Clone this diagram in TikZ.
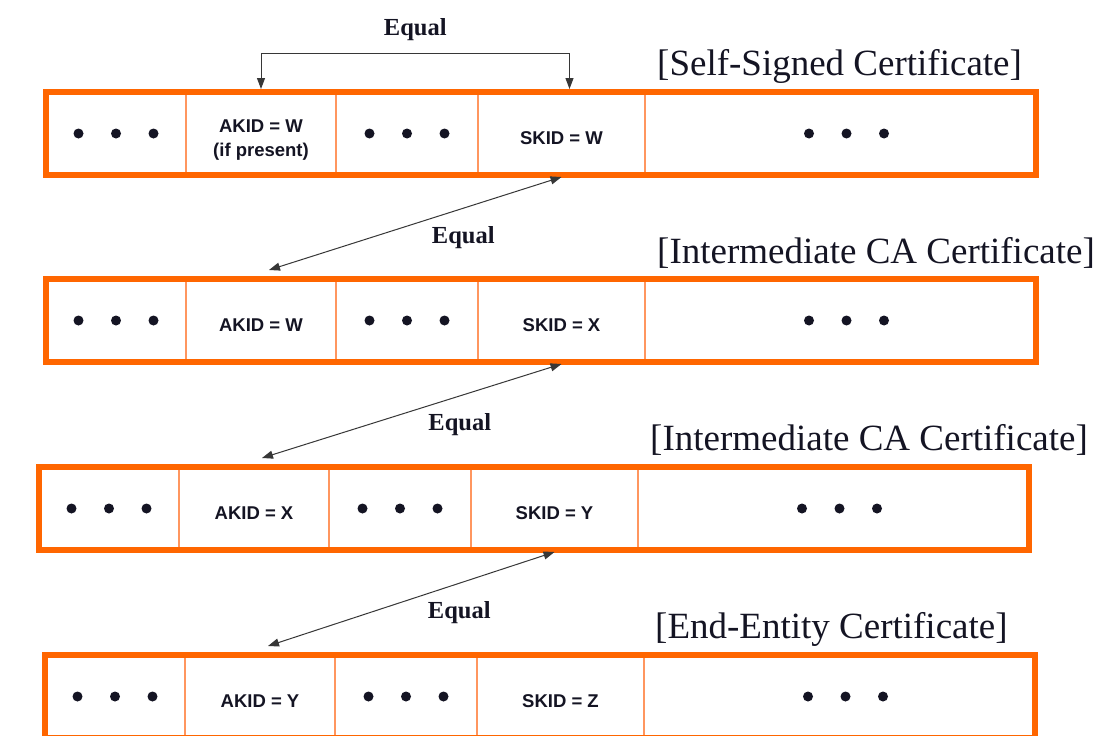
\documentclass[tikz,border=0pt]{standalone}
\usepackage{fontspec}
\setmainfont{Liberation Serif}
\setsansfont{Liberation Sans}
\usetikzlibrary{calc,arrows.meta}
\definecolor{certorange}{RGB}{255,102,0}
\definecolor{cellline}{RGB}{255,150,95}
\definecolor{arrowgray}{RGB}{55,55,55}
\definecolor{inkblack}{RGB}{20,20,35}
\tikzset{
  cell/.style={rectangle, draw=cellline, line width=1.3pt, minimum height=83pt, inner sep=0pt, outer sep=0pt, text=inkblack, font=\sffamily\bfseries\fontsize{18.5}{24}\selectfont},
  idcell/.style={cell, text height=21pt, text depth=0pt},
  certframe/.style={draw=certorange, line width=6pt},
  eqarrow/.style={draw=arrowgray, line width=1pt, {Triangle[length=11pt,width=8pt]}-{Triangle[length=11pt,width=8pt]}},
  eqlabel/.style={text=inkblack, font=\bfseries\fontsize{24.5}{28}\selectfont},
  certtitle/.style={anchor=west, inner sep=0pt, text=inkblack, font=\fontsize{37}{40}\selectfont}
}
\begin{document}
\begin{tikzpicture}[x=1pt,y=-1pt]
            \useasboundingbox (0,0) rectangle (1120,736);
            \fill [white] (0,0) rectangle (1120,736);
            % self-signed
            \node [cell, minimum width=140pt] (l1) at (116,133.5) {};
            \node [idcell, minimum width=150pt, text height=12pt, text depth=15pt] (a1) at (261,133.5) {\begin{tabular}[t]{@{}c@{}}AKID = W\\(if present)\end{tabular}};
            \node [cell, minimum width=142pt] (m1) at (407,133.5) {};
            \node [idcell, minimum width=167pt] (s1) at (561.5,133.5) {SKID = W};
            \node [cell, minimum width=391pt] (r1) at (840.5,133.5) {};
            % intermediate
            \node [cell, minimum width=140pt] (l2) at (116,320.5) {};
            \node [idcell, minimum width=150pt] (a2) at (261,320.5) {AKID = W};
            \node [cell, minimum width=142pt] (m2) at (407,320.5) {};
            \node [idcell, minimum width=167pt] (s2) at (561.5,320.5) {SKID = X};
            \node [cell, minimum width=391pt] (r2) at (840.5,320.5) {};
            % intermediate
            \node [cell, minimum width=140pt] (l3) at (109,508.5) {};
            \node [idcell, minimum width=150pt] (a3) at (254,508.5) {AKID = X};
            \node [cell, minimum width=142pt] (m3) at (400,508.5) {};
            \node [idcell, minimum width=167pt] (s3) at (554.5,508.5) {SKID = Y};
            \node [cell, minimum width=391pt] (r3) at (833.5,508.5) {};
            % end-entity
            \node [cell, minimum width=140pt] (l4) at (115,696.5) {};
            \node [idcell, minimum width=150pt] (a4) at (260,696.5) {AKID = Y};
            \node [cell, minimum width=142pt] (m4) at (406,696.5) {};
            \node [idcell, minimum width=167pt] (s4) at (560.5,696.5) {SKID = Z};
            \node [cell, minimum width=391pt] (r4) at (839.5,696.5) {};
            \draw [certframe] (l1.north west) rectangle (r1.south east);
            \draw [certframe] (l2.north west) rectangle (r2.south east);
            \draw [certframe] (l3.north west) rectangle (r3.south east);
            \draw [certframe] (l4.north west) rectangle (r4.south east);
            \foreach \c/\o in {l1/0,m1/0,r1/6,l2/0,m2/0,r2/6,l3/0,m3/0,r3/6,l4/0,m4/0,r4/6}
              \foreach \dx in {-37.5,0,37.5}
                \fill [inkblack] ($(\c.center)+(\dx+\o,0)$) circle (5);
            \node [certtitle] (t1) at (657,66) {[Self-Signed Certificate]};
            \node [certtitle] (t2) at (657,253) {[Intermediate CA Certificate]};
            \node [certtitle] (t3) at (650,440) {[Intermediate CA Certificate]};
            \node [certtitle] (t4) at (655,629) {[End-Entity Certificate]};
            \draw [eqarrow] ($(a1.north)+(0,-3)$) -- ++(0,-36) -| ($(s1.north)+(8,-3)$) node [eqlabel, pos=0.25, yshift=23pt] {Equal};
            \draw [eqarrow] ($(s1.south)+(0,2)$) -- ($(a2.north)+(8,-9)$) node [eqlabel, midway, xshift=48pt, yshift=-14pt] {Equal};
            \draw [eqarrow] ($(s2.south)+(0,2)$) -- ($(a3.north)+(8,-9)$) node [eqlabel, midway, xshift=48pt, yshift=-14pt] {Equal};
            \draw [eqarrow] ($(s3.south)+(0,2)$) -- ($(a4.north)+(8,-9)$) node [eqlabel, midway, xshift=48pt, yshift=-14pt] {Equal};
        \end{tikzpicture}
\end{document}
